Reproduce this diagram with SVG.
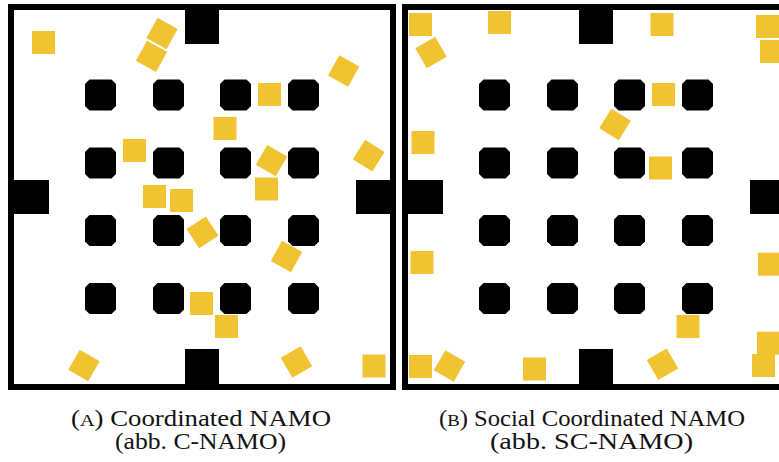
<svg xmlns="http://www.w3.org/2000/svg" xmlns:xlink="http://www.w3.org/1999/xlink" width="779" height="462" viewBox="0 0 779 462">
<style>
.wall{fill:none;stroke:#000;stroke-width:6}
.door,.obs{fill:#000}
.box{fill:#F1C232}
.cap{font-family:"Liberation Serif","DejaVu Serif",serif;font-size:23px;fill:#111;text-anchor:middle}
.sc{font-size:17.5px}
</style>
<defs>
<path id="oct" d="M-11,-15.5 H11 L15.5,-11 V11 L11,15.5 H-11 L-15.5,11 V-11 Z"/>
<rect id="sq" x="-11.5" y="-11.5" width="23" height="23"/>
<g id="obstacles" class="obs">
<use xlink:href="#oct" x="100.5" y="95"/><use xlink:href="#oct" x="168.5" y="95"/><use xlink:href="#oct" x="235.5" y="95"/><use xlink:href="#oct" x="303.5" y="95"/>
<use xlink:href="#oct" x="100.5" y="163"/><use xlink:href="#oct" x="168.5" y="163"/><use xlink:href="#oct" x="235.5" y="163"/><use xlink:href="#oct" x="303.5" y="163"/>
<use xlink:href="#oct" x="100.5" y="230.5"/><use xlink:href="#oct" x="168.5" y="230.5"/><use xlink:href="#oct" x="235.5" y="230.5"/><use xlink:href="#oct" x="303.5" y="230.5"/>
<use xlink:href="#oct" x="100.5" y="298.5"/><use xlink:href="#oct" x="168.5" y="298.5"/><use xlink:href="#oct" x="235.5" y="298.5"/><use xlink:href="#oct" x="303.5" y="298.5"/>
</g>
</defs>
<rect width="779" height="462" fill="#fff"/>

<g id="panel-a">
<rect class="wall" x="11" y="7" width="382" height="380"/>
<g class="door">
<rect x="185" y="10" width="34" height="34"/>
<rect x="185" y="349" width="34" height="35"/>
<rect x="14" y="180" width="35" height="34"/>
<rect x="356" y="180" width="34" height="34"/>
</g>
<use xlink:href="#obstacles"/>
<g class="box">
<use xlink:href="#sq" transform="translate(43.5,42.5)"/>
<use xlink:href="#sq" transform="translate(134.5,150.5)"/>
<use xlink:href="#sq" transform="translate(154.5,196.5)"/>
<use xlink:href="#sq" transform="translate(181.5,200.5)"/>
<use xlink:href="#sq" transform="translate(269.5,94.5)"/>
<use xlink:href="#sq" transform="translate(225,128.5)"/>
<use xlink:href="#sq" transform="translate(266.5,189)"/>
<use xlink:href="#sq" transform="translate(201.5,303.5)"/>
<use xlink:href="#sq" transform="translate(226.5,326.5)"/>
<use xlink:href="#sq" transform="translate(374,366)"/>
<use xlink:href="#sq" transform="translate(162,33.5) rotate(29)"/>
<use xlink:href="#sq" transform="translate(151.5,56.3) rotate(29)"/>
<use xlink:href="#sq" transform="translate(343.7,71) rotate(29)"/>
<use xlink:href="#sq" transform="translate(271.5,160.6) rotate(30)"/>
<use xlink:href="#sq" transform="translate(368.7,155.7) rotate(32)"/>
<use xlink:href="#sq" transform="translate(286.5,256.5) rotate(29)"/>
<use xlink:href="#sq" transform="translate(84,365.5) rotate(30)"/>
<use xlink:href="#sq" transform="translate(202.5,232.3) rotate(-33)"/>
<use xlink:href="#sq" transform="translate(296.5,362) rotate(-30)"/>
</g>
</g>

<g id="panel-b">
<rect class="wall" x="405" y="7" width="382" height="380"/>
<g class="door">
<rect x="579" y="10" width="34" height="34"/>
<rect x="579" y="349" width="34" height="35"/>
<rect x="408" y="180" width="35" height="34"/>
<rect x="750" y="180" width="34" height="34"/>
</g>
<use xlink:href="#obstacles" transform="translate(394,0)"/>
<g class="box">
<use xlink:href="#sq" transform="translate(420.5,24.5)"/>
<use xlink:href="#sq" transform="translate(499.5,22.5)"/>
<use xlink:href="#sq" transform="translate(423,142.5)"/>
<use xlink:href="#sq" transform="translate(662,24.5)"/>
<use xlink:href="#sq" transform="translate(767.5,26.5)"/>
<use xlink:href="#sq" transform="translate(771.5,51.5)"/>
<use xlink:href="#sq" transform="translate(663.5,94.5)"/>
<use xlink:href="#sq" transform="translate(660.5,168)"/>
<use xlink:href="#sq" transform="translate(422,262.5)"/>
<use xlink:href="#sq" transform="translate(769.5,264.2)"/>
<use xlink:href="#sq" transform="translate(688,326.5)"/>
<use xlink:href="#sq" transform="translate(768.5,343.2)"/>
<use xlink:href="#sq" transform="translate(420.5,366.5)"/>
<use xlink:href="#sq" transform="translate(534.5,369)"/>
<use xlink:href="#sq" transform="translate(763.5,365.5)"/>
<use xlink:href="#sq" transform="translate(615,124.5) rotate(32)"/>
<use xlink:href="#sq" transform="translate(449.5,366) rotate(30)"/>
<use xlink:href="#sq" transform="translate(431,52.5) rotate(-30)"/>
<use xlink:href="#sq" transform="translate(662.5,364.3) rotate(-30)"/>
</g>
</g>

<g id="captions">
<text class="cap" x="201" y="426" textLength="260" lengthAdjust="spacingAndGlyphs">(<tspan class="sc">A</tspan>) Coordinated NAMO</text>
<text class="cap" x="200.5" y="449" textLength="171" lengthAdjust="spacingAndGlyphs">(abb. C-NAMO)</text>
<text class="cap" x="592" y="426" textLength="306" lengthAdjust="spacingAndGlyphs">(<tspan class="sc">B</tspan>) Social Coordinated NAMO</text>
<text class="cap" x="591.5" y="449" textLength="203" lengthAdjust="spacingAndGlyphs">(abb. SC-NAMO)</text>
</g>
</svg>
